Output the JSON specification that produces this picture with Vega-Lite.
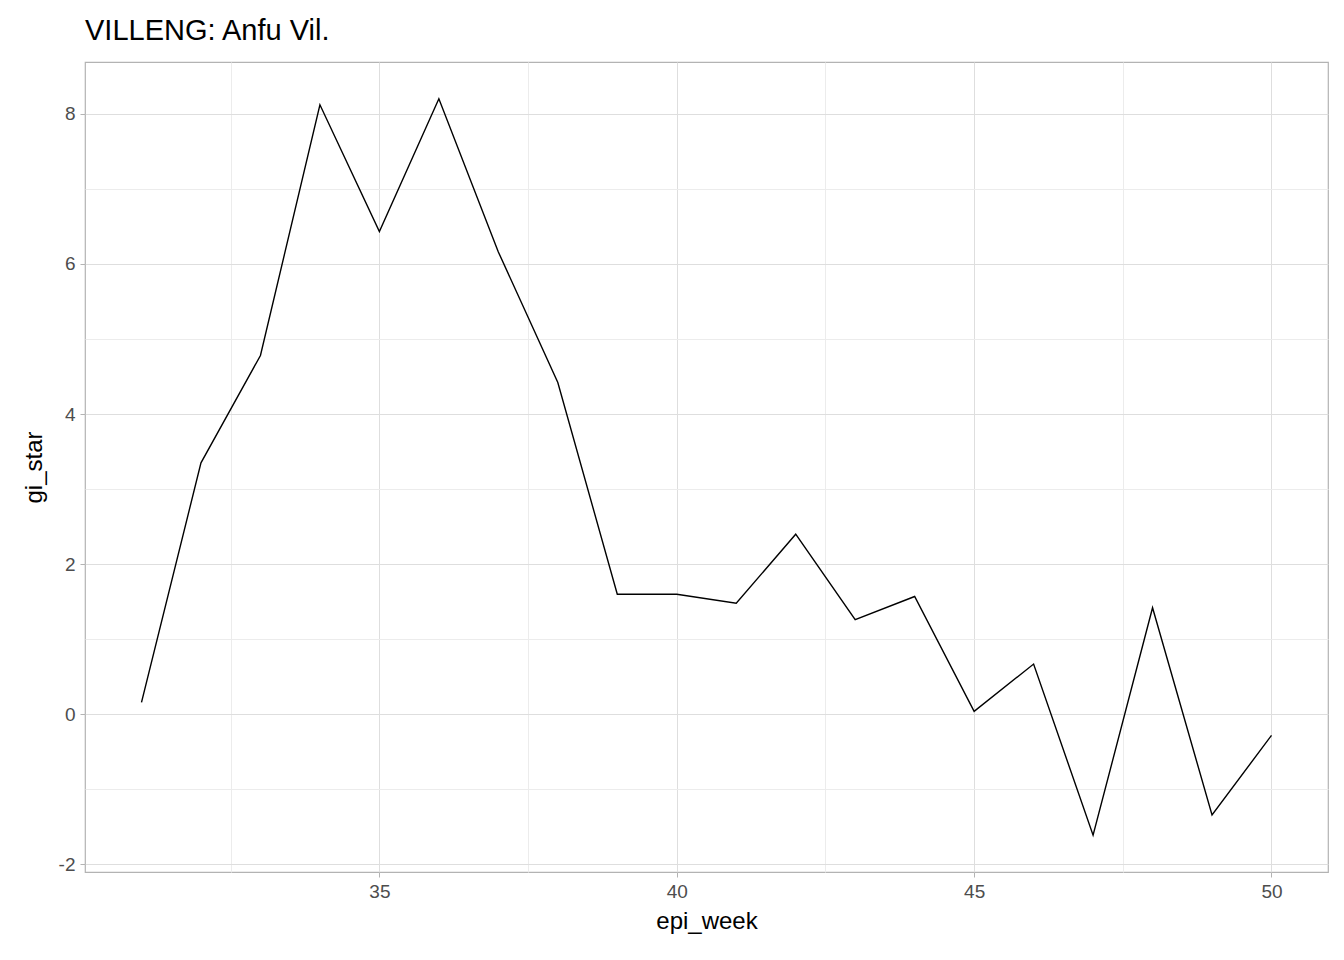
{
  "$schema": "https://vega.github.io/schema/vega-lite/v6.json",
  "width": 1243,
  "height": 810,
  "autosize": {"type": "none"},
  "padding": {"left": 85, "top": 62, "right": 16, "bottom": 88},
  "background": "white",
  "title": {"text": "VILLENG: Anfu Vil.", "anchor": "start", "frame": "group", "font": "Liberation Sans", "fontSize": 29, "fontWeight": "normal", "color": "black", "offset": 16},
  "config": {
    "font": "Liberation Sans",
    "view": {"stroke": "#b3b3b3", "strokeWidth": 1.2},
    "axis": {"domain": false, "labelFont": "Liberation Sans", "labelFontSize": 19, "labelColor": "#4d4d4d", "titleFont": "Liberation Sans", "titleFontSize": 24, "titleFontWeight": "normal", "titleColor": "black", "tickSize": 5, "tickColor": "#b3b3b3", "labelPadding": 5}
  },
  "data": {"values": [
    {"epi_week": 31, "gi_star": 0.16},
    {"epi_week": 32, "gi_star": 3.35},
    {"epi_week": 33, "gi_star": 4.78},
    {"epi_week": 34, "gi_star": 8.12},
    {"epi_week": 35, "gi_star": 6.43},
    {"epi_week": 36, "gi_star": 8.2},
    {"epi_week": 37, "gi_star": 6.16},
    {"epi_week": 38, "gi_star": 4.42},
    {"epi_week": 39, "gi_star": 1.6},
    {"epi_week": 40, "gi_star": 1.6},
    {"epi_week": 41, "gi_star": 1.48},
    {"epi_week": 42, "gi_star": 2.4},
    {"epi_week": 43, "gi_star": 1.26},
    {"epi_week": 44, "gi_star": 1.57},
    {"epi_week": 45, "gi_star": 0.04},
    {"epi_week": 46, "gi_star": 0.67},
    {"epi_week": 47, "gi_star": -1.61},
    {"epi_week": 48, "gi_star": 1.42},
    {"epi_week": 49, "gi_star": -1.34},
    {"epi_week": 50, "gi_star": -0.28}
  ]},
  "mark": {"type": "line", "color": "black", "strokeWidth": 1.4},
  "encoding": {
    "x": {"field": "epi_week", "type": "quantitative", "scale": {"domain": [30.05, 50.95], "nice": false, "zero": false},
      "axis": {"values": [32.5, 35, 37.5, 40, 42.5, 45, 47.5, 50], "labelExpr": "datum.value % 5 === 0 ? toString(datum.value) : ''", "titlePadding": 8,
        "gridColor": {"condition": {"test": "datum.value % 5 === 0", "value": "#dedede"}, "value": "#ececec"},
        "tickOpacity": {"condition": {"test": "datum.value % 5 === 0", "value": 1}, "value": 0}}},
    "y": {"field": "gi_star", "type": "quantitative", "scale": {"domain": [-2.1, 8.69], "nice": false, "zero": false},
      "axis": {"values": [-2, -1, 0, 1, 2, 3, 4, 5, 6, 7, 8], "labelExpr": "datum.value % 2 === 0 ? toString(datum.value) : ''", "titlePadding": 12,
        "gridColor": {"condition": {"test": "datum.value % 2 === 0", "value": "#dedede"}, "value": "#ececec"},
        "tickOpacity": {"condition": {"test": "datum.value % 2 === 0", "value": 1}, "value": 0}}}
  }
}
